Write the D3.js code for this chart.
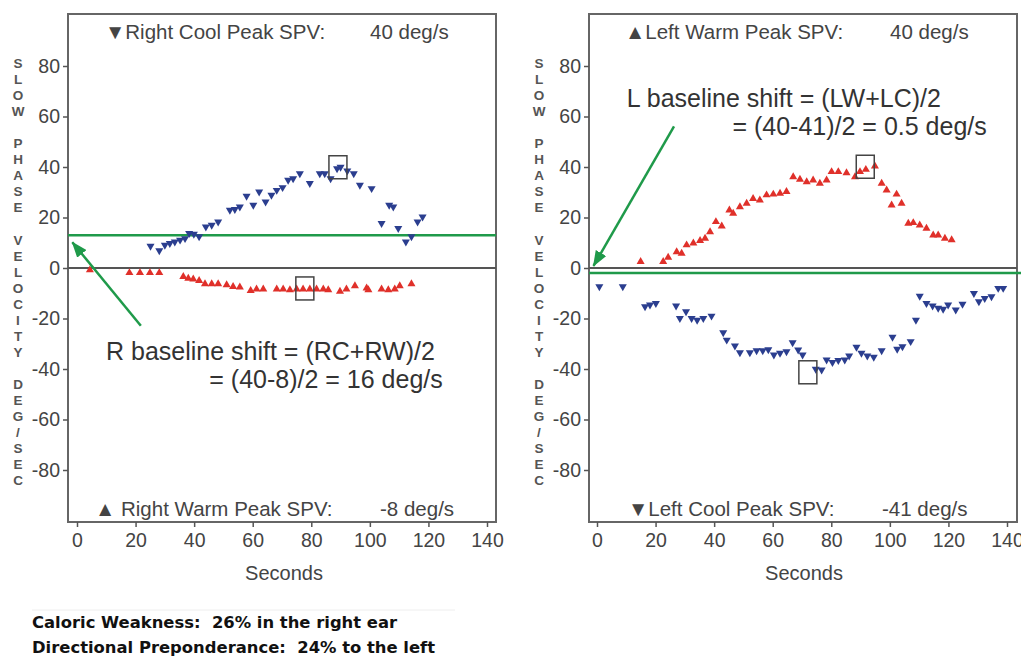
<!DOCTYPE html>
<html>
<head>
<meta charset="utf-8">
<script src="https://cdn.jsdelivr.net/npm/d3@7"></script>
<style>
  body { margin: 0; background: #fff; }
  svg { display: block; }
  text { font-family: "Liberation Sans", Arial, sans-serif; white-space: pre; }
  text.summary { font-family: "DejaVu Sans", sans-serif; }
</style>
</head>
<body>
<svg id="chart"></svg>
<script>
  // [seconds, deg/s]
  var rightCool = [[25.1,8.7],[28.1,6.9],[30,9.1],[31.7,9.8],[33.4,10.4],[35.2,11.1],[36.9,11.7],[38.3,13.7],
    [39.9,13.4],[41.7,12.4],[44,16.3],[46,17],[48.2,18.3],[52.2,22.9],[53.9,23.2],[55.6,24.2],[57.9,28.5],
    [60.2,24.9],[62.2,30.2],[64.4,26.2],[66.4,28.9],[68.2,30.8],[70.2,31.9],[72.1,34.8],[73.8,35.4],[76.1,37.4],
    [79.5,33.5],[82.9,37.4],[84.6,37.4],[86.6,35.4],[88.8,39.4],[90,40],[92.3,38.5],[94.5,37.4],[96.6,32.8],
    [100.6,31.5],[104,17.7],[106.6,24.9],[108,24.2],[109.7,15.7],[112.3,10.4],[114.2,12.4],[116.3,18.3],[118,20.3]];
  var rightWarm = [[4.4,-0.8],[17.9,-1.9],[21.5,-1.9],[24.9,-1.9],[28.1,-1.9],[36.3,-3.4],[38,-4.1],[39.7,-4.4],
    [41.7,-5],[43.7,-6.3],[46,-6.3],[48.2,-6.3],[51.1,-6.7],[53.3,-7.4],[55.6,-7.6],[59.3,-9],[61.3,-8.4],
    [63.6,-8.4],[68.2,-8.4],[70.4,-8.4],[72.7,-8.7],[75,-8.4],[77.2,-8.4],[79.5,-8.4],[81.8,-8.4],[84.1,-8.4],
    [85.8,-8.7],[89.8,-9.3],[92,-8.4],[94.9,-7.1],[98.9,-8],[99.5,-8.7],[104,-8.4],[106.3,-8.7],[108.5,-8.4],
    [110.2,-7.1],[114.2,-6.3]];
  var leftWarm = [[14.9,2.5],[22.6,2.5],[24.3,4.2],[27.2,6.4],[28.9,5.8],[30.6,9.1],[32.9,9.8],[35.2,10.8],
    [36.9,11.7],[38.6,14.3],[40.6,18.3],[42.6,16.6],[45.2,22.9],[46.5,21.6],[48.8,24.2],[51.1,25.6],[53.3,27.5],
    [55.6,26.9],[57.9,28.9],[60.2,29.2],[62.5,29.5],[64.7,30.2],[67,36.1],[69.3,35.1],[71.6,34.1],[73.8,34.8],
    [76.1,33.5],[78.4,34.8],[80.1,38.1],[82.4,38.1],[85.2,37.7],[88.1,36.1],[89.8,38.1],[91.8,39],[94.9,40.3],
    [97.2,33.5],[98.9,30.8],[100.6,24.9],[102.3,29.2],[104,25.6],[106.3,17.7],[108,17.9],[110.2,17],[112.5,15.7],
    [114.8,13],[116.5,13],[118.8,11.7],[121.1,11.1]];
  var leftCool = [[0.8,-7.4],[8.8,-7.4],[16.4,-15.3],[18.1,-14.6],[20.1,-14],[27,-15],[28.3,-19.9],[30.4,-17.3],
    [32.3,-19.9],[34.2,-20.6],[36.3,-19.9],[39.1,-19],[43.1,-25.6],[44.3,-28.5],[47.1,-30.8],[48.8,-33.5],
    [52.2,-33.5],[54.5,-32.7],[56.6,-32.7],[58.5,-32.3],[60.4,-34.4],[62.5,-33.7],[64.7,-33.1],[66.8,-29.5],
    [68.7,-32.4],[70.2,-34.4],[74.7,-40],[76.7,-40.3],[78.4,-36.4],[80.4,-37.4],[82.4,-36.6],[84.6,-36.4],
    [86.1,-34.8],[88.6,-31.3],[90.3,-33.7],[92.3,-34.8],[94.5,-35.3],[97.2,-32.7],[100.9,-27.4],[102.5,-32.1],
    [104.3,-31.1],[107.1,-29.1],[108.9,-20.6],[110.2,-11.1],[112.5,-14],[114.6,-15],[116.5,-15.9],[118.2,-16.3],
    [119.9,-14.6],[122.5,-16.6],[124.8,-14.3],[128.7,-10],[130.4,-13.3],[132.4,-12],[134.7,-11.3],[137,-8],[138.7,-8]];

  var rightPeaks = [[89.1,39.9],[77.8,-8.1]];
  var leftPeaks = [[91.6,40.1],[72,-41.3]];
  var rightBaseline = 13;
  var leftBaseline = -2;

  var xTicks = [0,20,40,60,80,100,120,140];
  var yTicks = [80,60,40,20,0,-20,-40,-60,-80];
  var yLabel = "SLOW PHASE VELOCITY DEG/SEC";

  var rightTop = ["\u25BCRight Cool Peak SPV:", "40 deg/s"];
  var rightBottom = ["\u25B2 Right Warm Peak SPV:", "-8 deg/s"];
  var leftTop = ["\u25B2Left Warm Peak SPV:", "40 deg/s"];
  var leftBottom = ["\u25BCLeft Cool Peak SPV:", "-41 deg/s"];
  var rightNote = ["R baseline shift = (RC+RW)/2", "= (40-8)/2 = 16 deg/s"];
  var leftNote = ["L baseline shift = (LW+LC)/2", "= (40-41)/2 = 0.5 deg/s"];
  var summary = ["Caloric Weakness:  26% in the right ear", "Directional Preponderance:  24% to the left"];

  var svgWidth = 1021, svgHeight = 656;
  var svg = d3.select("#chart").attr("width", svgWidth).attr("height", svgHeight);
  var green = "#1f9a4a", blue = "#2b3e8f", red = "#e0302a";

  svg.append("defs").append("marker")
    .attr("id", "arrow")
    .attr("markerUnits", "userSpaceOnUse")
    .attr("markerWidth", 16).attr("markerHeight", 12)
    .attr("refX", 15).attr("refY", 6)
    .attr("orient", "auto")
    .append("path").attr("d", "M0,0L16,6L0,12Z").attr("fill", green);

  var y = d3.scaleLinear().domain([-80, 80]).range([470, 66]);
  var frameTop = 14, frameBottom = 522;

  function drawPanel(p) {
    var x = d3.scaleLinear().domain([0, 140]).range([p.x0, p.x0 + 410]);
    var g = svg.append("g");
    var fl = p.frameLeft, fr = p.frameLeft + 428;

    // frame
    g.append("rect")
      .attr("x", fl).attr("y", frameTop)
      .attr("width", fr - fl).attr("height", frameBottom - frameTop)
      .attr("fill", "none").attr("stroke", "#666").attr("stroke-width", 2);

    // y axis ticks (plain hyphen for negatives, like the original)
    var yAxis = d3.axisLeft(y).tickValues(yTicks).tickSize(5).tickPadding(3)
      .tickFormat(function(d) { return String(d); });
    var ya = g.append("g").attr("transform", "translate(" + fl + ",0)").call(yAxis);
    ya.select(".domain").remove();
    ya.selectAll("line").attr("stroke", "#555").attr("stroke-width", 1.5);
    ya.selectAll("text").attr("font-size", 19.5).attr("fill", "#444").attr("font-family", null);

    // x axis ticks
    var xAxis = d3.axisBottom(x).tickValues(xTicks).tickSize(5).tickPadding(6)
      .tickFormat(function(d) { return String(d); });
    var xa = g.append("g").attr("transform", "translate(0," + frameBottom + ")").call(xAxis);
    xa.select(".domain").remove();
    xa.selectAll("line").attr("stroke", "#555").attr("stroke-width", 1.5);
    xa.selectAll("text").attr("font-size", 19.5).attr("fill", "#444").attr("font-family", null);

    g.append("text")
      .attr("x", (p.x0 + p.x0 + 410) / 2 + 2).attr("y", 580)
      .attr("text-anchor", "middle").attr("font-size", 20).attr("fill", "#444")
      .text("Seconds");

    // stacked y label
    g.append("g").selectAll("text")
      .data(yLabel.split(""))
      .enter().append("text")
      .attr("x", p.labelX)
      .attr("y", function(d, i) { return 68 + i * 16.05; })
      .attr("text-anchor", "middle")
      .attr("font-size", 13.5).attr("font-weight", "bold").attr("fill", "#555")
      .text(function(d) { return d; });

    // zero line
    g.append("line")
      .attr("x1", fl).attr("x2", fr)
      .attr("y1", y(0)).attr("y2", y(0))
      .attr("stroke", "#555").attr("stroke-width", 2);

    // baseline shift line
    g.append("line")
      .attr("x1", fl).attr("x2", p.greenEnd)
      .attr("y1", y(p.baseline)).attr("y2", y(p.baseline))
      .attr("stroke", green).attr("stroke-width", 2.5);

    // header / footer texts
    g.append("text").attr("x", fl + p.topOff[0]).attr("y", 39)
      .attr("font-size", 20.5).attr("fill", "#444").text(p.top[0]);
    g.append("text").attr("x", fl + p.topOff[1]).attr("y", 39)
      .attr("font-size", 20.5).attr("fill", "#444").text(p.top[1]);
    g.append("text").attr("x", fl + p.botOff[0]).attr("y", 516)
      .attr("font-size", 20.5).attr("fill", "#444").text(p.bottom[0]);
    g.append("text").attr("x", fl + p.botOff[1]).attr("y", 516)
      .attr("font-size", 20.5).attr("fill", "#444").text(p.bottom[1]);

    // data
    var tri = d3.symbol().type(d3.symbolTriangle).size(28);
    g.append("g").selectAll("path")
      .data(p.up)
      .enter().append("path")
      .attr("d", tri)
      .attr("transform", function(d) { return "translate(" + x(d[0]) + "," + y(d[1]) + ")"; })
      .attr("fill", p.upColor);
    g.append("g").selectAll("path")
      .data(p.down)
      .enter().append("path")
      .attr("d", tri)
      .attr("transform", function(d) { return "translate(" + x(d[0]) + "," + y(d[1]) + ") rotate(180)"; })
      .attr("fill", p.downColor);

    // peak boxes
    g.append("g").selectAll("rect")
      .data(p.peaks)
      .enter().append("rect")
      .attr("x", function(d) { return x(d[0]) - 9; })
      .attr("y", function(d) { return y(d[1]) - 11.5; })
      .attr("width", 18).attr("height", 23)
      .attr("fill", "none").attr("stroke", "#444").attr("stroke-width", 1.5);

    // annotation
    g.append("line")
      .attr("x1", x(p.arrow[0][0])).attr("y1", y(p.arrow[0][1]))
      .attr("x2", x(p.arrow[1][0])).attr("y2", y(p.arrow[1][1]))
      .attr("stroke", green).attr("stroke-width", 2.5)
      .attr("marker-end", "url(#arrow)");
    g.append("text")
      .attr("x", x(p.notePos[0][0])).attr("y", y(p.notePos[0][1]))
      .attr("font-size", 25).attr("fill", "#333").text(p.note[0]);
    g.append("text")
      .attr("x", x(p.notePos[1][0])).attr("y", y(p.notePos[1][1]))
      .attr("text-anchor", "end")
      .attr("font-size", 25).attr("fill", "#333").text(p.note[1]);
  }

  drawPanel({
    x0: 77, frameLeft: 68, labelX: 18, greenEnd: 496,
    up: rightWarm, down: rightCool, upColor: red, downColor: blue,
    peaks: rightPeaks, baseline: rightBaseline,
    top: rightTop, topOff: [37, 302], bottom: rightBottom, botOff: [27, 312],
    arrow: [[21.8, -22.9], [-1.6, 10.2]],
    note: rightNote, notePos: [[9.9, -36.4], [124.9, -47.4]]
  });

  drawPanel({
    x0: 597, frameLeft: 589, labelX: 539, greenEnd: 1021,
    up: leftWarm, down: leftCool, upColor: red, downColor: blue,
    peaks: leftPeaks, baseline: leftBaseline,
    top: leftTop, topOff: [36, 301], bottom: leftBottom, botOff: [39, 293],
    arrow: [[26.3, 56.1], [-1.2, 0.8]],
    note: leftNote, notePos: [[10.2, 63.6], [133.1, 52.6]]
  });

  // summary lines
  svg.append("line")
    .attr("x1", 32).attr("x2", 455).attr("y1", 610).attr("y2", 610)
    .attr("stroke", "#eee").attr("stroke-width", 1);
  svg.append("g").selectAll("text")
    .data(summary)
    .enter().append("text")
    .attr("class", "summary")
    .attr("x", 32)
    .attr("y", function(d, i) { return 628 + i * 25; })
    .attr("font-size", 16.4).attr("font-weight", "bold").attr("fill", "#111")
    .text(function(d) { return d; });
</script>
</body>
</html>
